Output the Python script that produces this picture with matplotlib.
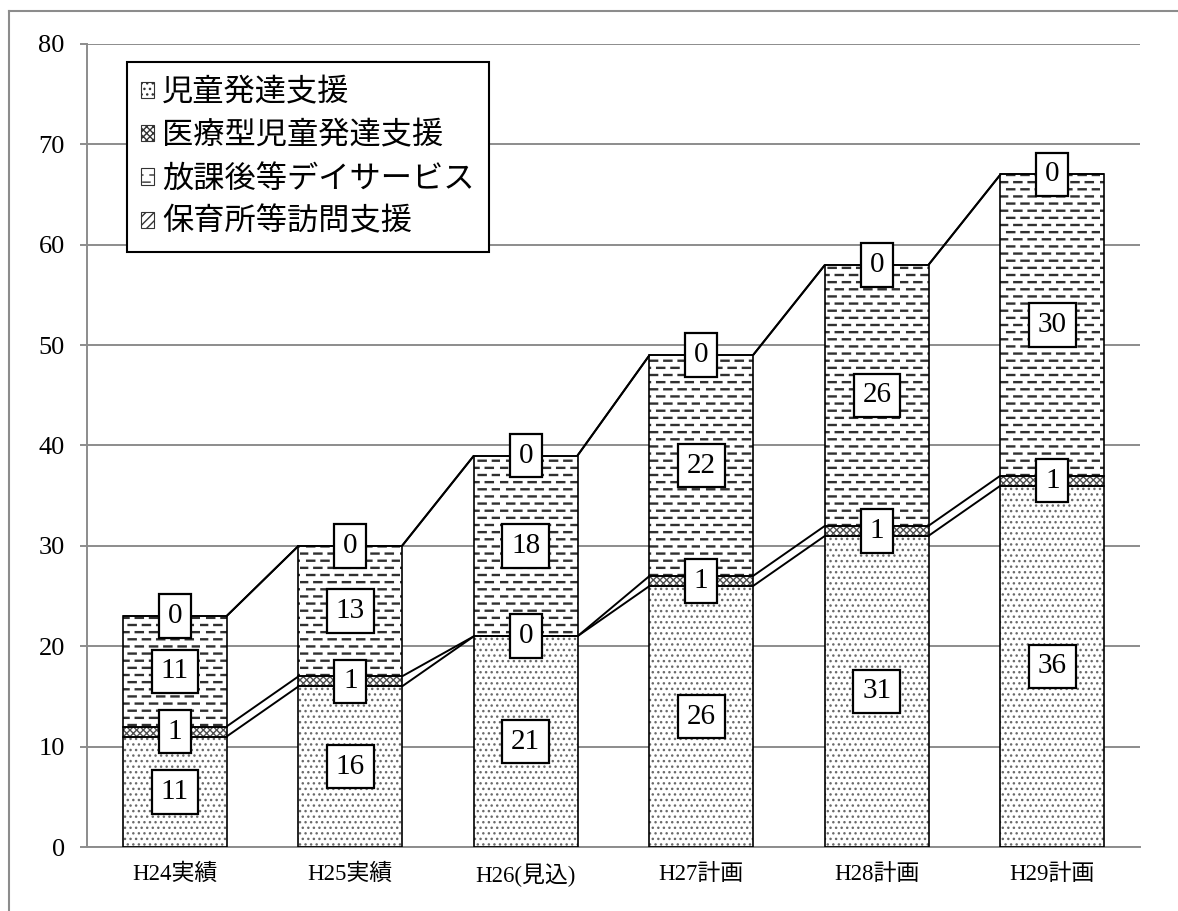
import matplotlib
matplotlib.use('Agg')
import matplotlib.pyplot as plt
import matplotlib.hatch as mhatch
from matplotlib.path import Path
from matplotlib.lines import Line2D
from matplotlib.patches import Patch
import numpy as np

# ---------------- data ----------------
categories = ['H24実績', 'H25実績', 'H26(見込)', 'H27計画', 'H28計画', 'H29計画']
series_names = ['児童発達支援', '医療型児童発達支援', '放課後等デイサービス', '保育所等訪問支援']
jido_hattatsu = [11, 16, 21, 26, 31, 36]
iryo_gata = [1, 1, 0, 1, 1, 1]
houkago_day = [11, 13, 18, 22, 26, 30]
hoikusho_houmon = [0, 0, 0, 0, 0, 0]
y_ticks = [0, 10, 20, 30, 40, 50, 60, 70, 80]

series_values = [jido_hattatsu, iryo_gata, houkago_day, hoikusho_houmon]
hatches = ['...', 'xxxxx', '-', '////']
hatch_colors = ['#6a6a6a', '#505050', '#303030', '#404040']
hatch_widths = [1.0, 1.0, 1.7, 1.0]


# ---------------- dashed hatch ("-" drawn as staggered dashes) ----------------
class DashHatch(mhatch.HatchPatternBase):
    def __init__(self, hatch, density):
        n = hatch.count('-')
        self.rows = 14 if n else 0
        self.cols = 7
        self.num_vertices = self.rows * self.cols * 2

    def set_vertices_and_codes(self, vertices, codes):
        k = 0
        for r in range(self.rows):
            y = (r + 0.5) / self.rows
            off = 0.0 if r % 2 == 0 else 0.5
            for c in range(self.cols):
                x0 = (c + off) / self.cols
                x1 = x0 + 0.5 / self.cols
                vertices[k] = (x0, y)
                vertices[k + 1] = (x1, y)
                codes[k] = Path.MOVETO
                codes[k + 1] = Path.LINETO
                k += 2


mhatch._hatch_types[0] = DashHatch

plt.rcParams['font.family'] = ['Liberation Serif', 'Noto Sans CJK JP']

W, H = 1178, 911
fig = plt.figure(figsize=(W / 100, H / 100), dpi=100)
ax = fig.add_axes([87 / W, 1 - 847 / H, (1140 - 87) / W, (847 - 44) / H])

x = np.arange(len(categories))
bw = 0.59
grid_c = '#8c8c8c'

bottom = np.zeros(len(categories))
tops = []
for vals, hat, hc, hw in zip(series_values, hatches, hatch_colors, hatch_widths):
    v = np.array(vals, dtype=float)
    with plt.rc_context({'hatch.linewidth': hw}):
        bars = ax.bar(x, v, bw, bottom=bottom, color='white', edgecolor=hc,
                      hatch=hat, linewidth=0, zorder=2)
        for b in bars:
            if hasattr(b, 'set_hatch_linewidth'):
                b.set_hatch_linewidth(hw)
    ax.bar(x, v, bw, bottom=bottom, fill=False, edgecolor='black',
           linewidth=1.2, zorder=3)
    bottom = bottom + v
    tops.append(bottom.copy())

# series lines
for top in tops:
    for i in range(len(categories) - 1):
        ax.plot([x[i] + bw / 2, x[i + 1] - bw / 2], [top[i], top[i + 1]],
                color='black', lw=1.4, zorder=3, solid_capstyle='butt')

# data labels
bottom = np.zeros(len(categories))
for vals in series_values:
    v = np.array(vals, dtype=float)
    for i in range(len(categories)):
        ax.text(x[i], bottom[i] + v[i] / 2, f'{vals[i]}', ha='center', va='center',
                fontsize=21, family='Liberation Serif', zorder=6,
                bbox=dict(boxstyle='square,pad=0.3', fc='white', ec='black', lw=1.6))
    bottom = bottom + v

ax.set_xlim(-0.5, len(categories) - 0.5)
ax.set_ylim(0, 80)
ax.set_yticks(y_ticks)
ax.set_xticks(x)
ax.set_xticklabels(categories, fontsize=16.5)
for lab in ax.get_yticklabels():
    lab.set_fontsize(19)
ax.tick_params(axis='y', length=5, width=1.4, color=grid_c, pad=11)
ax.tick_params(axis='x', length=0, pad=12)
ax.yaxis.grid(True, color=grid_c, lw=1.4)
ax.set_axisbelow(True)
for s in ['top', 'right']:
    ax.spines[s].set_visible(False)
for s in ['left', 'bottom']:
    ax.spines[s].set_color(grid_c)
    ax.spines[s].set_linewidth(1.4)

handles = [Patch(facecolor='white', edgecolor='#333333', hatch=h, linewidth=0.8)
           for h in hatches]
leg = fig.legend(handles, series_names, loc='upper left',
                 bbox_to_anchor=(127 / W, 1 - 62 / H), bbox_transform=fig.transFigure,
                 prop={'family': 'Noto Sans CJK JP', 'size': 22.5},
                 handlelength=0.42, handleheight=0.42, handletextpad=0.25,
                 borderpad=0.45, labelspacing=0.36, borderaxespad=0,
                 frameon=True, fancybox=False, framealpha=1, edgecolor='black')
leg.get_frame().set_linewidth(1.5)
leg.set_zorder(10)

# outer chart border (only left and top edges visible)
fig.add_artist(Line2D([9 / W, 9 / W], [0, 1 - 11 / H], transform=fig.transFigure,
                      color=grid_c, lw=1.5))
fig.add_artist(Line2D([9 / W, 1], [1 - 11 / H, 1 - 11 / H], transform=fig.transFigure,
                      color=grid_c, lw=1.5))

fig.savefig('out.png', dpi=100)
